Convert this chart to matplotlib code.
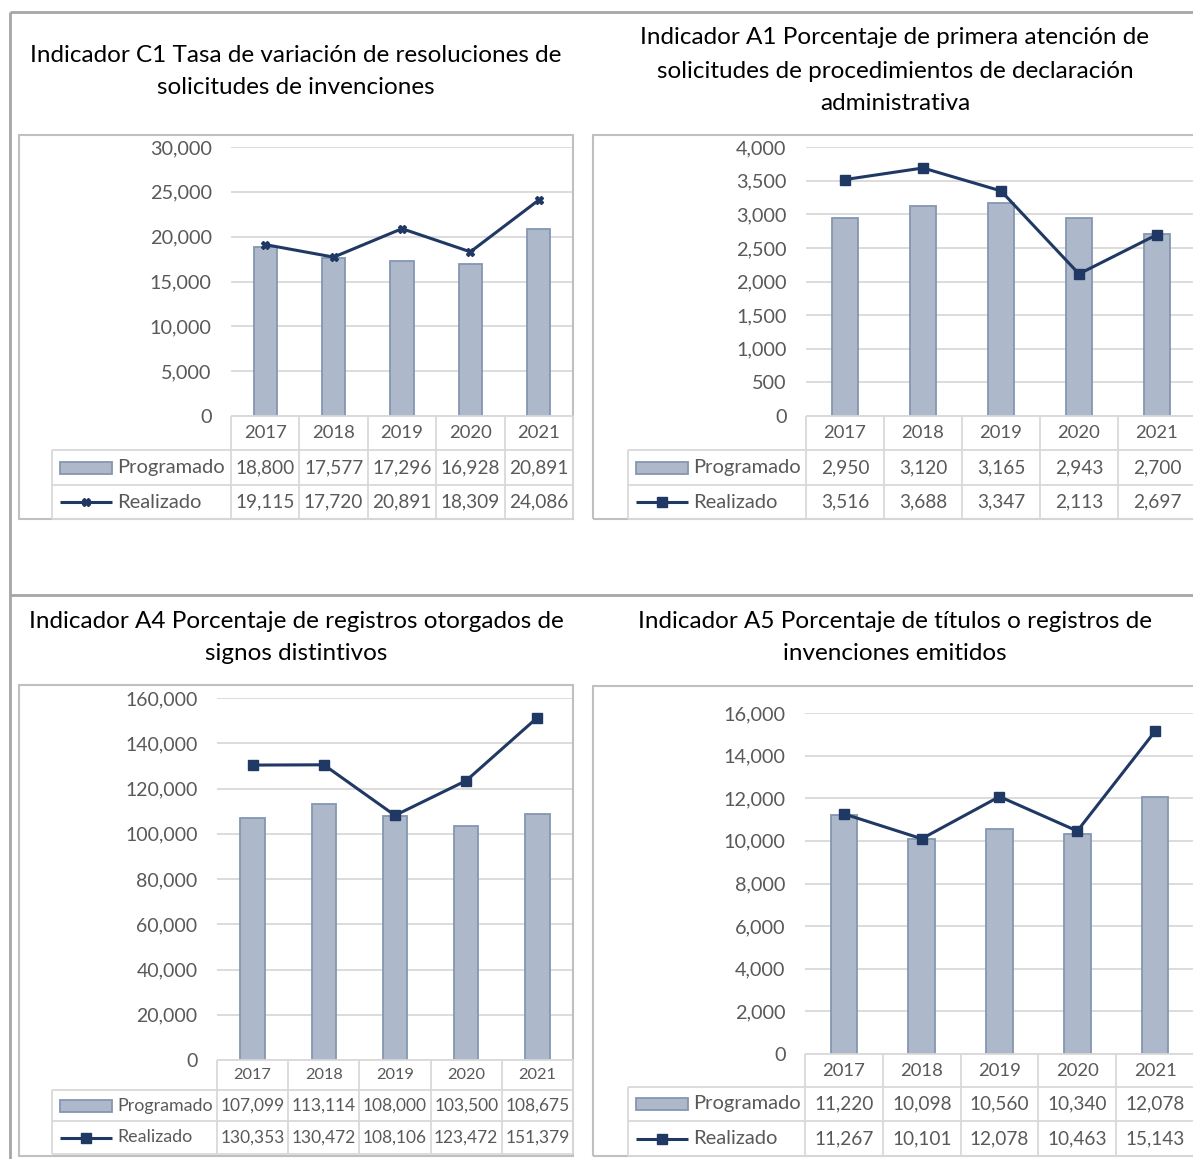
import matplotlib
matplotlib.use('Agg')
from matplotlib import pyplot as plt
from matplotlib.lines import Line2D
from matplotlib.patches import Rectangle
from matplotlib.ticker import MultipleLocator, FuncFormatter
from matplotlib.transforms import blended_transform_factory

plt.rcParams['font.family'] = ['Lato', 'DejaVu Sans']

# data
years = ['2017', '2018', '2019', '2020', '2021']

c1_title = ['Indicador C1 Tasa de variación de resoluciones de',
            'solicitudes de invenciones']
c1_programado = [18800, 17577, 17296, 16928, 20891]
c1_realizado = [19115, 17720, 20891, 18309, 24086]

a1_title = ['Indicador A1 Porcentaje de primera atención de',
            'solicitudes de procedimientos de declaración',
            'administrativa']
a1_programado = [2950, 3120, 3165, 2943, 2700]
a1_realizado = [3516, 3688, 3347, 2113, 2697]

a4_title = ['Indicador A4 Porcentaje de registros otorgados de',
            'signos distintivos']
a4_programado = [107099, 113114, 108000, 103500, 108675]
a4_realizado = [130353, 130472, 108106, 123472, 151379]

a5_title = ['Indicador A5 Porcentaje de títulos o registros de',
            'invenciones emitidos']
a5_programado = [11220, 10098, 10560, 10340, 12078]
a5_realizado = [11267, 10101, 12078, 10463, 15143]

series_names = ['Programado', 'Realizado']

W, H = 1193, 1159
BAR_FILL = '#adb9ca'
BAR_EDGE = '#8497b0'
LINE = '#203864'
GREY_TXT = '#595959'
GRID = '#d9d9d9'

fig = plt.figure(figsize=(W / 100, H / 100), dpi=100)


def fx(x):
    return x / W


def fy(y):
    return 1 - y / H


def seg(xs, ys, color, lw, tr=None):
    fig.add_artist(Line2D(xs, ys, transform=tr or fig.transFigure,
                          color=color, lw=lw, solid_capstyle='butt'))


# outer frame of the document table
seg([fx(10), fx(W)], [fy(12), fy(12)], '#a6a6a6', 2)
seg([fx(10), fx(10)], [fy(12), fy(H)], '#a6a6a6', 2)
seg([fx(10), fx(W)], [fy(595), fy(595)], '#a6a6a6', 2)


def draw_panel(title, title_x, title_ys, prog, real, box, leg_left,
               plot_left, plot_right, y_top, y_zero, rows, ymax, step,
               fonts, marker, ms):
    tick_fs, year_fs, num_fs, leg_fs = fonts
    for line, ty in zip(title, title_ys):
        fig.text(fx(title_x), fy(ty), line, ha='center', va='center',
                 fontsize=17.5, color='black')

    bx0, by0, bx1, by1 = box
    fig.add_artist(Rectangle((fx(bx0), fy(by1)), (bx1 - bx0) / W,
                             (by1 - by0) / H, transform=fig.transFigure,
                             fill=False, edgecolor='#c0c0c0', lw=1.5))

    ax = fig.add_axes([fx(plot_left), fy(y_zero),
                       (plot_right - plot_left) / W, (y_zero - y_top) / H])
    x = list(range(len(years)))
    ax.bar(x, prog, width=0.34, color=BAR_FILL, edgecolor=BAR_EDGE,
           lw=1.3, zorder=2)
    ax.plot(x, real, color=LINE, lw=2.2, marker=marker, ms=ms, zorder=3)
    ax.set_xlim(-0.5, len(years) - 0.5)
    ax.set_ylim(0, ymax)
    ax.set_facecolor('none')
    ax.yaxis.set_major_locator(MultipleLocator(step))
    ax.yaxis.set_major_formatter(FuncFormatter(lambda v, p: f'{v:,.0f}'))
    ax.grid(axis='y', color=GRID, lw=1.3, zorder=0)
    ax.set_xticks([])
    for s in ax.spines.values():
        s.set_visible(False)
    ax.tick_params(axis='y', length=0, pad=14, labelsize=tick_fs,
                   labelcolor=GREY_TXT)

    # data table under the plot
    tr = blended_transform_factory(ax.transData, fig.transFigure)
    n = len(years)
    r0, r1, r2 = rows
    seg([-0.5, n - 0.5], [fy(y_zero), fy(y_zero)], GRID, 1.3, tr)
    for yy in (r0, r1, r2):
        seg([fx(leg_left), fx(plot_right)], [fy(yy), fy(yy)], GRID, 1.3)
    for i in range(n + 1):
        seg([i - 0.5, i - 0.5], [fy(y_zero), fy(r2)], GRID, 1.3, tr)
    seg([fx(leg_left), fx(leg_left)], [fy(r0), fy(r2)], GRID, 1.3)

    for i, yr in enumerate(years):
        fig.text(i, fy((y_zero + r0) / 2), yr, transform=tr, ha='center',
                 va='center', fontsize=year_fs, color=GREY_TXT)
        fig.text(i, fy((r0 + r1) / 2), f'{prog[i]:,}', transform=tr,
                 ha='center', va='center', fontsize=num_fs, color=GREY_TXT)
        fig.text(i, fy((r1 + r2) / 2), f'{real[i]:,}', transform=tr,
                 ha='center', va='center', fontsize=num_fs, color=GREY_TXT)

    # legend keys inside the table
    m1 = (r0 + r1) / 2
    m2 = (r1 + r2) / 2
    fig.add_artist(Rectangle((fx(leg_left + 8), fy(m1 + 6)), 52 / W, 12 / H,
                             transform=fig.transFigure, facecolor=BAR_FILL,
                             edgecolor=BAR_EDGE, lw=1.3))
    seg([fx(leg_left + 8), fx(leg_left + 60)], [fy(m2), fy(m2)], LINE, 2.2)
    fig.add_artist(Line2D([fx(leg_left + 34)], [fy(m2)],
                          transform=fig.transFigure, marker=marker, ms=ms,
                          color=LINE))
    fig.text(fx(leg_left + 65), fy(m1), series_names[0], ha='left',
             va='center', fontsize=leg_fs, color=GREY_TXT)
    fig.text(fx(leg_left + 65), fy(m2), series_names[1], ha='left',
             va='center', fontsize=leg_fs, color=GREY_TXT)
    return ax


draw_panel(c1_title, 296, [55, 87], c1_programado, c1_realizado,
           (19, 135, 573, 519), 52, 231, 573, 147, 416, (450, 485, 519),
           30000, 5000, (14.3, 13.3, 13.7, 14.5), 'X', 5.5)
draw_panel(a1_title, 895, [38, 71, 103], a1_programado, a1_realizado,
           (593, 135, W + 5, 519), 628, 806, 1196, 147, 416, (450, 485, 519),
           4000, 500, (14.3, 13.3, 13.7, 14.5), 's', 7)
draw_panel(a4_title, 296, [621, 654], a4_programado, a4_realizado,
           (19, 685, 573, 1156), 52, 217, 573, 698, 1060, (1090, 1121, 1154),
           160000, 20000, (14, 11.8, 12.5, 12.9), 's', 7)
draw_panel(a5_title, 895, [621, 654], a5_programado, a5_realizado,
           (593, 686, W + 5, 1156), 628, 805, 1194, 713, 1054, (1087, 1121, 1156),
           16000, 2000, (14.3, 13.3, 13.7, 14.5), 's', 7)

plt.savefig('out.png', dpi=100)
